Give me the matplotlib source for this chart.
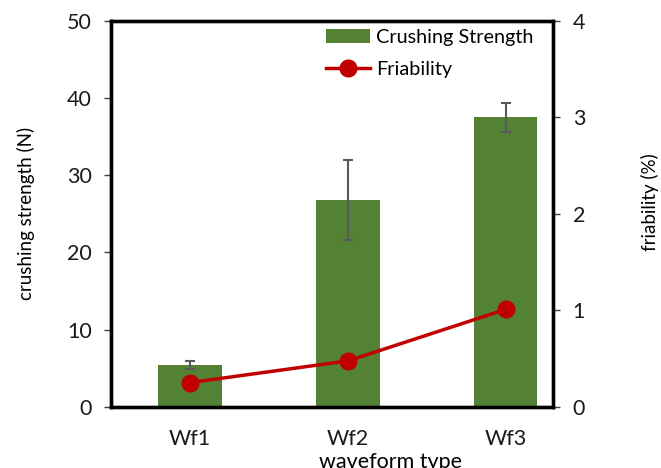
import numpy as np
import matplotlib
matplotlib.use("Agg")
import matplotlib.pyplot as plt

plt.rcParams['font.family'] = ['Lato', 'DejaVu Sans']

categories = ['Wf1', 'Wf2', 'Wf3']
strength = [5.4, 26.8, 37.5]
strength_err = [0.5, 5.2, 1.9]
friability = [0.25, 0.475, 1.01]

fig = plt.figure(figsize=(6.61, 4.68), dpi=100)
ax1 = fig.add_axes([0.168, 0.131, 0.669, 0.824])
ax2 = ax1.twinx()

x = np.arange(len(categories))
ax1.bar(x, strength, width=0.4, color='#548235', label='Crushing Strength', zorder=2)
ax1.errorbar(x, strength, yerr=strength_err, fmt='none', ecolor='#595959',
             elinewidth=1.5, capsize=3.6, capthick=1.5, zorder=3)
ax2.plot(x, friability, '-o', color='#C00000', lw=2.5, markersize=12, label='Friability')

ax1.set_xlim(-0.5, 2.3)
ax1.set_ylim(0, 50)
ax2.set_ylim(0, 4)
ax1.set_xticks(x)
ax1.set_xticklabels(categories)
ax1.yaxis.set_major_locator(plt.MultipleLocator(10))
ax2.yaxis.set_major_locator(plt.MultipleLocator(1))

for ax in (ax1, ax2):
    ax.tick_params(labelsize=15.5, length=5, width=1, color='#404040', labelcolor='#1a1a1a', pad=9)
    for s in ax.spines.values():
        s.set_linewidth(2.4)
        s.set_color('black')
ax1.tick_params(axis='x', length=0, pad=16)

# axis titles (Excel puts these a bit off-centre)
ax1.set_ylabel('crushing strength (N)', fontsize=13.5, labelpad=23)
ax2.set_ylabel('friability (%)', fontsize=13.5, labelpad=40)
ax2.yaxis.label.set_y(0.53)
ax1.set_xlabel('waveform type', fontsize=15.5, labelpad=2)
ax1.xaxis.label.set_x(0.631)

h1, l1 = ax1.get_legend_handles_labels()
h2, l2 = ax2.get_legend_handles_labels()
ax2.legend(h1 + h2, l1 + l2, loc='upper right', bbox_to_anchor=(0.995, 1.025), frameon=False,
           fontsize=14.3, handlelength=2.2, handletextpad=0.3, labelspacing=0.75)

plt.savefig('out.png', dpi=100)
